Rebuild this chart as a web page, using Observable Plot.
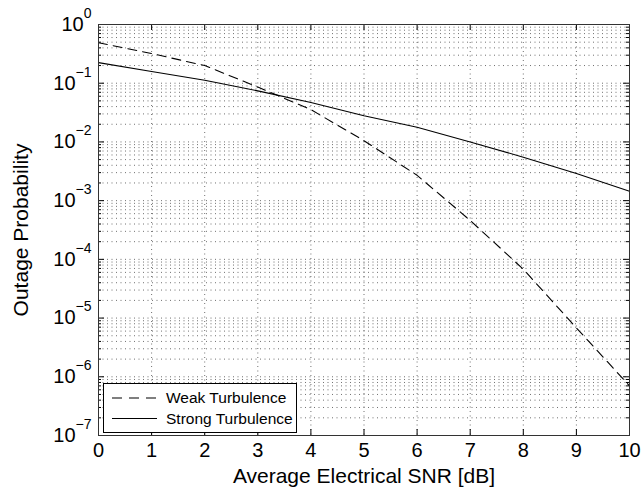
<!DOCTYPE html>
<html><head><meta charset="utf-8">
<script src="https://cdn.jsdelivr.net/npm/d3@7"></script>
<script src="https://cdn.jsdelivr.net/npm/@observablehq/plot@0.6"></script>
<style>body{margin:0;background:#fff;} #chart{width:642px;height:491px;}</style>
</head><body><div id="chart"></div>
<script>
// ---- data ----
const snr = [0, 1, 2, 3, 4, 5, 6, 7, 8, 9, 10];
const weak = [0.49, 0.32, 0.20, 0.086, 0.0355, 0.0105, 0.0027, 4.6e-4, 6.8e-5, 6.8e-6, 7.0e-7];
const strong = [0.224, 0.158, 0.112, 0.074, 0.047, 0.028, 0.0178, 0.010, 0.0055, 0.0029, 0.00145];
const seriesNames = ["Weak Turbulence", "Strong Turbulence"];
const xTicks = [0, 1, 2, 3, 4, 5, 6, 7, 8, 9, 10];
const yExponents = [-7, -6, -5, -4, -3, -2, -1, 0];
const xLabel = "Average Electrical SNR [dB]";
const yLabel = "Outage Probability";

const yDecades = yExponents.map(e => Math.pow(10, e));
const yMinor = yExponents.slice(0, -1).flatMap(e => [2,3,4,5,6,7,8,9].map(m => m * Math.pow(10, e)));
const weakRows = snr.map((x, i) => ({x, p: weak[i]}));
const strongRows = snr.map((x, i) => ({x, p: strong[i]}));

const W = 642, H = 491, ML = 98, MR = 13, MT = 24, MB = 56;
const FW = W - ML - MR, FH = H - MT - MB;
const font = "'Liberation Sans', Arial, Helvetica, sans-serif";
const grid = {stroke: "#333", strokeOpacity: 0.7, strokeDasharray: "1,3.5", strokeWidth: 1};

const chart = Plot.plot({
  width: W, height: H,
  marginLeft: ML, marginRight: MR, marginTop: MT, marginBottom: MB,
  style: {fontFamily: font, background: "#fff", color: "#000"},
  x: {domain: [0, 10]},
  y: {type: "log", domain: [1e-7, 1]},
  marks: [
    Plot.ruleY(yMinor, {y: d => d, ...grid}),
    Plot.ruleY(yDecades, {y: d => d, ...grid}),
    Plot.ruleX(xTicks, {x: d => d, ...grid}),
    Plot.line(weakRows, {x: "x", y: "p", stroke: "#000", strokeWidth: 1.1, strokeDasharray: "9,6"}),
    Plot.line(strongRows, {x: "x", y: "p", stroke: "#000", strokeWidth: 1.1}),
    // inward ticks
    Plot.tickX(xTicks, {x: d => d, insetTop: FH - 6, stroke: "#000"}),
    Plot.tickX(xTicks, {x: d => d, insetBottom: FH - 6, stroke: "#000"}),
    Plot.tickY(yDecades, {y: d => d, insetRight: FW - 6, stroke: "#000"}),
    Plot.tickY(yDecades, {y: d => d, insetLeft: FW - 6, stroke: "#000"}),
    Plot.tickY(yMinor, {y: d => d, insetRight: FW - 3, stroke: "#000"}),
    Plot.tickY(yMinor, {y: d => d, insetLeft: FW - 3, stroke: "#000"}),
    Plot.frame({stroke: "#333", strokeWidth: 1}),
    Plot.axisX({ticks: xTicks, tickSize: 0, tickPadding: 7, fontSize: 20, label: null, tickFormat: d => String(d)}),
    Plot.axisY({ticks: yDecades, tickSize: 0, tickPadding: 7, fontSize: 20, label: null,
      tickFormat: d => "10^" + Math.round(Math.log10(d))}),
    Plot.text([xLabel], {text: d => d, frameAnchor: "bottom", textAnchor: "middle", lineAnchor: "middle", dy: 41, fontSize: 21, fill: "#000"}),
    Plot.text([yLabel], {text: d => d, frameAnchor: "left", textAnchor: "middle", lineAnchor: "middle", rotate: -90, dx: -77, fontSize: 21, fill: "#000"})
  ]
});
document.getElementById("chart").appendChild(chart);

// superscript exponents on the y tick labels
const svg = d3.select(chart);
svg.selectAll('g[aria-label="y-axis tick label"] text').each(function() {
  const t = d3.select(this);
  const s = t.text();
  const e = s.split("^")[1];
  t.text("10");
  t.append("tspan").attr("dy", -13).attr("font-size", 14).text(e.replace("-", "\u2212"));
});

// legend box (inside the axes, lower left)
const lg = svg.append("g").attr("font-family", font).attr("font-size", 15.5).attr("text-anchor", "start");
lg.append("rect").attr("x", 103.5).attr("y", 383.5).attr("width", 193).attr("height", 49)
  .attr("fill", "#fff").attr("stroke", "#000").attr("stroke-width", 1);
const entries = [{name: seriesNames[0], dash: "10,7", y: 398}, {name: seriesNames[1], dash: null, y: 418.5}];
entries.forEach(en => {
  const ln = lg.append("line").attr("x1", 112).attr("x2", 157).attr("y1", en.y).attr("y2", en.y)
    .attr("stroke", "#000").attr("stroke-width", 1.1);
  if (en.dash) ln.attr("stroke-dasharray", en.dash);
  lg.append("text").attr("x", 166).attr("y", en.y).attr("dy", "0.33em").attr("text-anchor", "start")
    .attr("fill", "#000").text(en.name);
});
</script>
</body></html>
